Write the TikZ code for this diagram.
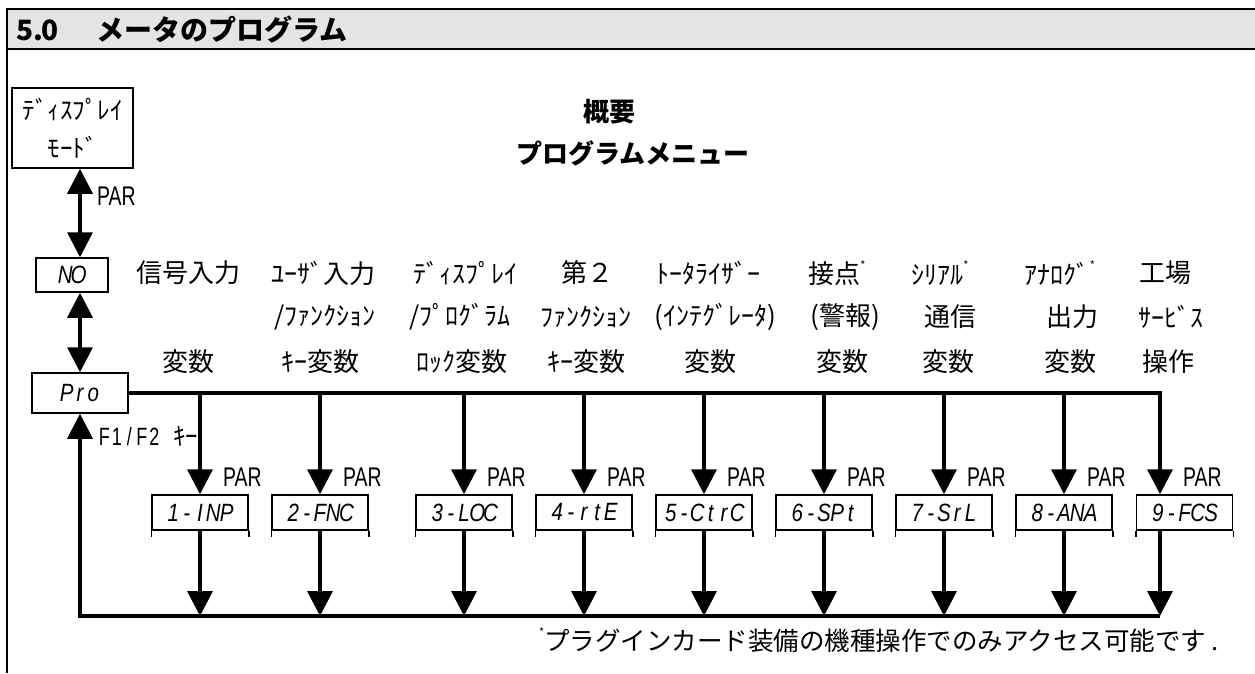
\documentclass[tikz,border=0pt]{standalone}
\usepackage{fontspec}
\usetikzlibrary{arrows.meta}
\newfontfamily\jp{Noto Sans CJK JP}
\newfontfamily\segfont[FakeStretch=0.82]{Liberation Sans}
\newfontfamily\parfont[FakeStretch=0.72]{Liberation Sans}
\definecolor{titlegray}{RGB}{228,228,228}
\makeatletter
\newcommand\mono[1]{\@tfor\mych:=#1\do{\makebox[13.3pt][c]{\mych}}}
\newcommand\halfw[1]{\@tfor\mych:=#1\do{\makebox[12.5pt][c]{\mych}}}
\makeatother
\newcommand\fnast{\raisebox{0.55em}{\fontsize{11}{11}\selectfont *}}
\begin{document}
\begin{tikzpicture}[x=1pt,y=-1pt,
  segbox/.style={draw,line width=1.5pt,minimum width=96pt,minimum height=35pt,inner sep=0pt,
    font=\segfont\itshape\fontsize{25}{25}\selectfont},
  arr/.style={line width=3.5pt,-{Triangle[width=25pt,length=25pt]}},
  dblarr/.style={line width=3.5pt,{Triangle[width=25pt,length=25pt]}-{Triangle[width=25pt,length=25pt]}},
  cat/.style={inner sep=0pt,font=\jp\fontsize{26}{26}\selectfont},
  head/.style={inner sep=0pt,font=\jp\bfseries\fontsize{26}{26}\selectfont},
  parlbl/.style={inner sep=0pt,anchor=west,font=\parfont\fontsize{27}{27}\selectfont},
  tick/.style={line width=1.5pt}
]
\useasboundingbox (0,0) rectangle (1255,673);
% frame and title bar
\fill[titlegray] (7,9) rectangle (1255,49);
\draw[line width=2.5pt] (7,9) -- (1255,9);
\draw[line width=2.5pt] (7,49) -- (1255,49);
\draw[line width=2pt] (7,8) -- (7,673);
\node[anchor=west,inner sep=0pt,font=\jp\bfseries\fontsize{28}{28}\selectfont] (title) at (19,30) {\halfw{5.0}\hspace{40pt}メータのプログラム};
% headings
\node[head] (h1) at (609,112) {概要};
\node[head] (h2) at (633,153) {プログラムメニュー};
% display mode box
\node[draw,line width=1.5pt,minimum width=121pt,minimum height=80pt,inner sep=0pt,align=center,
  font=\jp\fontsize{25}{38}\selectfont] (disp) at (72.5,128) {ﾃﾞｨｽﾌﾟﾚｲ\\ ﾓｰﾄﾞ};
% NO and Pro
\node[segbox,minimum width=72pt,minimum height=34pt] (no) at (72,275) {\mono{NO}};
\node[segbox,minimum width=96pt,minimum height=40pt] (pro) at (80,393) {\mono{Pro}};
\coordinate (a0) at (80,0);
\draw[dblarr] (disp.south -| a0) -- (no.north -| a0);
\draw[dblarr] (no.south -| a0) -- (pro.north -| a0);
\node[parlbl] (parA) at (97,196) {PAR};
\node[inner sep=0pt,anchor=west,font=\parfont\fontsize{25}{25}\selectfont] (fkey) at (98,436) {\halfw{F1/F2}\makebox[12.5pt]{}{\jp ｷｰ}};
% category labels
\node[cat] (c1a) at (188,273) {信号入力};
\node[cat] (c1c) at (188,362) {変数};
\node[cat] (c2a) at (323,273) {ﾕｰｻﾞ入力};
\node[cat] (c2b) at (325,317) {/ﾌｧﾝｸｼｮﾝ};
\node[cat] (c2c) at (320,362) {ｷｰ変数};
\node[cat] (c3a) at (465,273) {ﾃﾞｨｽﾌﾟﾚｲ};
\node[cat] (c3b) at (460,317) {/ﾌﾟﾛｸﾞﾗﾑ};
\node[cat] (c3c) at (462,362) {ﾛｯｸ変数};
\node[cat] (c4a) at (587,273) {第２};
\node[cat] (c4b) at (586,317) {ﾌｧﾝｸｼｮﾝ};
\node[cat] (c4c) at (586,362) {ｷｰ変数};
\node[cat] (c5a) at (708,273) {ﾄｰﾀﾗｲｻﾞｰ};
\node[cat] (c5b) at (715,317) {(ｲﾝﾃｸﾞﾚｰﾀ)};
\node[cat] (c5c) at (710,362) {変数};
\node[cat] (c6a) at (837,273) {接点\fnast};
\node[cat] (c6b) at (845,317) {(警報)};
\node[cat] (c6c) at (842,362) {変数};
\node[cat] (c7a) at (940,273) {ｼﾘｱﾙ\fnast};
\node[cat] (c7b) at (950,317) {通信};
\node[cat] (c7c) at (948,362) {変数};
\node[cat] (c8a) at (1060,273) {ｱﾅﾛｸﾞ\fnast};
\node[cat] (c8b) at (1072,317) {出力};
\node[cat] (c8c) at (1070,362) {変数};
\node[cat] (c9a) at (1165,273) {工場};
\node[cat] (c9b) at (1171,317) {ｻｰﾋﾞｽ};
\node[cat] (c9c) at (1168,362) {操作};
% sub-menu boxes
\node[segbox] (b1) at (200,512.5) {\mono{1-INP}};
\node[segbox] (b2) at (320,512.5) {\mono{2-FNC}};
\node[segbox] (b3) at (464,512.5) {\mono{3-LOC}};
\node[segbox] (b4) at (584,512.5) {\mono{4-rtE}};
\node[segbox] (b5) at (704,512.5) {\mono{5-CtrC}};
\node[segbox] (b6) at (824,512.5) {\mono{6-SPt}};
\node[segbox] (b7) at (944,512.5) {\mono{7-SrL}};
\node[segbox] (b8) at (1064,512.5) {\mono{8-ANA}};
\node[segbox] (b9) at (1184.5,512.5) {\mono{9-FCS}};
\foreach \i in {1,...,9}{
  \draw[tick] (b\i.south west) -- ++(0,6);
  \draw[tick] (b\i.south east) -- ++(0,6);
}
% junctions
\foreach \i/\xx in {1/200,2/320,3/464,4/584,5/704,6/824,7/944,8/1064,9/1160}{
  \coordinate (j\i) at (\xx,393);
  \coordinate (k\i) at (\xx,616);
}
\coordinate (k0) at (80,616);
% main distribution line
\draw[arr] (pro.east) -- (j9) -- (j9 |- b9.north);
\foreach \i in {1,...,8}{
  \draw[arr] (j\i) -- (j\i |- b\i.north);
}
\foreach \i/\xx in {1/200,2/320,3/464,4/584,5/704,6/824,7/944,8/1064,9/1160}{
  \node[parlbl] (par\i) at (\xx+23,477) {PAR};
}
% return lines
\foreach \i in {1,...,9}{
  \draw[arr] (k\i |- b\i.south) -- (k\i);
}
\draw[arr] (k9) -- (k0) -- (pro.south -| k0);
% footnote
\node[anchor=east,inner sep=0pt,font=\jp\fontsize{25.5}{25.5}\selectfont] (fn) at (1219,640) {\fnast プラグインカード装備の機種操作でのみアクセス可能です~.};
\end{tikzpicture}
\end{document}
